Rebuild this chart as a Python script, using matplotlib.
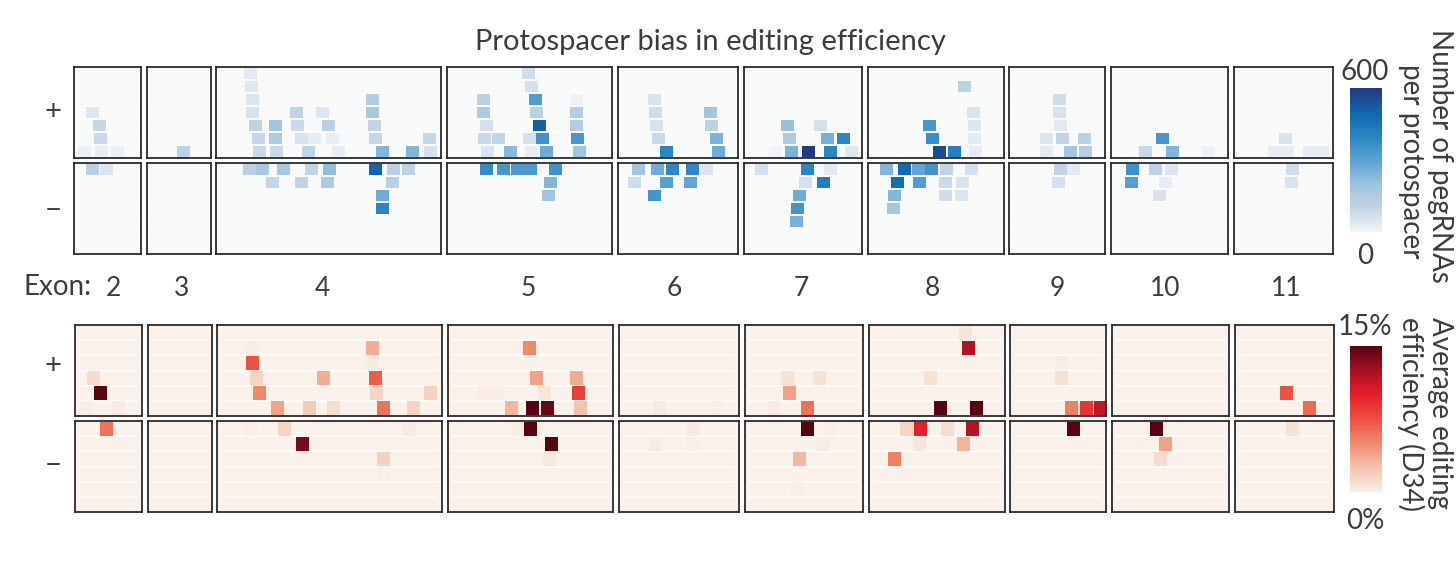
import numpy as np
import matplotlib
matplotlib.use("Agg")
import matplotlib.pyplot as plt
from matplotlib.colors import LinearSegmentedColormap, Normalize

FIG_W = 1456
FIG_H = 561
FONT = "Lato"
TEXT_COLOR = "#3c3c3c"

exons = ["2", "3", "4", "5", "6", "7", "8", "9", "10", "11"]
# exon extents on the shared position axis
exon_start = [74, 147, 216, 447, 618, 744, 868, 1009, 1111, 1234]
exon_end = [141, 211, 441, 612, 738, 862, 1004, 1105, 1228, 1333]
exon_label_pos = [113, 182, 322, 528, 674, 801, 932, 1057, 1165, 1286]

# pegRNA counts, plus strand
count_plus_row = [3, 4, 5, 6, 6, 6,
                  6,
                  0, 1, 2, 2, 3, 3, 3, 3, 4, 4, 4, 4, 4, 5, 5, 5, 5, 5, 5, 5, 6, 6, 6, 6, 6, 6, 6,
                  0, 1, 2, 2, 2, 3, 3, 3, 4, 4, 4, 5, 5, 5, 5, 5, 6, 6, 6, 6, 6,
                  2, 3, 4, 5, 6, 3, 4, 5, 6,
                  4, 4, 5, 5, 5, 6, 6, 6, 6, 6,
                  1, 3, 4, 4, 5, 5, 6, 6, 6,
                  2, 3, 4, 5, 5, 5, 6, 6, 6,
                  5, 6, 6, 6,
                  5, 6, 6, 6, 6]
count_plus_pos = [92, 99, 100, 84, 101, 117,
                  183,
                  250, 251, 252, 372, 252, 296, 322, 372, 255, 275, 297, 328, 374, 258, 275, 301, 314, 332, 375, 429, 259, 276, 308, 338, 382, 412, 430,
                  528, 531, 483, 535, 576, 483, 536, 576, 486, 539, 576, 484, 498, 529, 542, 577, 487, 510, 531, 546, 579,
                  654, 655, 656, 658, 666, 710, 711, 716, 718,
                  787, 820, 789, 827, 843, 775, 791, 808, 830, 851,
                  964, 973, 929, 974, 932, 974, 939, 954, 975,
                  1059, 1059, 1060, 1046, 1062, 1084, 1046, 1070, 1085,
                  1163, 1146, 1173, 1209,
                  1285, 1274, 1287, 1309, 1322]
count_plus_val = [45, 95, 85, 15, 22, 15,
                  120,
                  35, 40, 50, 140, 55, 110, 45, 170, 110, 190, 85, 130, 105, 95, 160, 55, 30, 22, 95, 90, 85, 85, 110, 25, 240, 240, 65,
                  75, 65, 115, 320, 10, 160, 125, 140, 65, 520, 140, 85, 105, 65, 360, 340, 50, 230, 30, 270, 190,
                  60, 75, 55, 85, 400, 190, 115, 250, 270,
                  210, 65, 150, 260, 400, 6, 250, 600, 400, 40,
                  120, 55, 340, 45, 370, 35, 560, 420, 28,
                  75, 55, 35, 45, 105, 120, 35, 180, 140,
                  340, 85, 240, 14,
                  55, 25, 25, 30, 30]

# pegRNA counts, minus strand
count_minus_row = [0, 0,
                   0, 0, 0, 0, 0, 0, 0, 0, 1, 1, 1, 1, 2, 3,
                   0, 0, 0, 0, 0, 0, 1, 2,
                   0, 0, 0, 0, 0, 1, 1, 1, 2,
                   0, 0, 0, 1, 1, 2, 3, 4,
                   0, 0, 0, 0, 0, 0, 1, 1, 1, 1, 2, 2, 2, 3,
                   0, 0, 1,
                   0, 0, 0, 1, 1, 2,
                   0, 1]
count_minus_pos = [92, 106,
                   249, 262, 283, 311, 329, 375, 393, 408, 272, 301, 327, 392, 382, 382,
                   486, 503, 517, 523, 530, 555, 550, 548,
                   638, 657, 672, 692, 706, 634, 666, 690, 654,
                   761, 807, 830, 805, 823, 799, 797, 796,
                   886, 904, 918, 931, 946, 971, 897, 919, 945, 962, 894, 945, 961, 893,
                   1060, 1073, 1058,
                   1133, 1156, 1172, 1132, 1166, 1160,
                   1292, 1291]
count_minus_val = [130, 45,
                   130, 170, 170, 105, 220, 500, 130, 120, 95, 110, 160, 130, 270, 400,
                   380, 340, 330, 330, 330, 360, 240, 190,
                   180, 270, 390, 390, 45, 75, 310, 290, 350,
                   65, 400, 35, 65, 430, 270, 350, 260,
                   240, 490, 290, 350, 105, 65, 480, 320, 85, 55, 240, 75, 45, 180,
                   105, 35, 65,
                   360, 115, 45, 310, 25, 55,
                   75, 55]

# editing efficiency (%), plus strand
eff_plus_row = [3, 4, 5, 5,
                1, 1, 2, 2, 3, 3, 3, 4, 4, 4, 5, 5, 5, 5, 5,
                1, 3, 3, 4, 4, 4, 4, 5, 5, 5, 5,
                5, 5,
                3, 3, 4, 5, 5,
                0, 1, 3, 5, 5,
                2, 3, 5, 5, 5,
                4, 5]
eff_plus_pos = [93, 100, 85, 118,
                372, 252, 252, 372, 256, 323, 375, 259, 376, 430, 277, 309, 333, 383, 413,
                529, 536, 576, 484, 498, 544, 578, 511, 532, 547, 580,
                659, 718,
                788, 820, 790, 775, 808,
                965, 968, 930, 940, 976,
                1061, 1061, 1071, 1086, 1100,
                1286, 1309]
eff_plus_val = [1.2, 15, 0.2, 0.3,
                3.5, 0.25, 7.5, 0.35, 1.6, 3.5, 7, 5, 1.6, 1.8, 4, 2, 1.1, 6, 1.6,
                5, 4, 3.5, 0.2, 0.2, 0.6, 8.5, 3.2, 15, 14.5, 2.6,
                0.4, 0.15,
                0.9, 0.9, 4, 0.3, 6,
                0.7, 12, 0.9, 15, 15,
                0.25, 0.9, 5.5, 9, 11.5,
                7.5, 6.5]

# editing efficiency (%), minus strand
eff_minus_row = [0,
                 0, 0, 0, 1, 2, 3,
                 0, 0, 1, 2,
                 0, 1, 1,
                 0, 0, 1, 2, 4,
                 0, 0, 0, 0, 1, 1, 2,
                 0,
                 0, 1, 2,
                 0]
eff_minus_pos = [106,
                 250, 284, 409, 302, 383, 383,
                 518, 530, 551, 549,
                 693, 655, 692,
                 808, 831, 824, 800, 798,
                 906, 920, 947, 972, 919, 963, 894,
                 1073,
                 1157, 1166, 1161,
                 1292]
eff_minus_val = [6,
                 0.15, 1.6, 0.35, 14, 1.8, 0.08,
                 0.25, 15, 15, 0.5,
                 0.35, 0.35, 0.15,
                 15, 0.08, 0.25, 3, 0.08,
                 1.6, 10, 1.1, 12, 0.7, 3.2, 5.5,
                 15,
                 15, 4, 1.2,
                 0.9]

blue_cmap = LinearSegmentedColormap.from_list(
    "counts", ["#f2f5f8", "#c3d4e6", "#9cc3de", "#5aa3d3", "#2b85c2", "#1166ad", "#243a80"])
red_cmap = LinearSegmentedColormap.from_list(
    "eff", ["#faf0e9", "#f3c4ae", "#ee8a6c", "#ec5340", "#e61f2c", "#a81025", "#560510"])
count_norm = Normalize(0, 600)
eff_norm = Normalize(0, 15)


def px_axes(fig, left, top, right, bottom):
    return fig.add_axes([left / FIG_W, 1 - bottom / FIG_H, (right - left) / FIG_W, (bottom - top) / FIG_H])


def draw_strand(fig, top, bottom, shift, n_rows, rows, pos, vals, cmap, norm, bg, line, inset, bar_h):
    rows = np.array(rows)
    pos = np.array(pos)
    vals = np.array(vals)
    for start, end in zip(exon_start, exon_end):
        ax = px_axes(fig, start + shift, top, end + shift, bottom)
        ax.set_facecolor(bg)
        ax.set_xlim(start + shift, end + shift)
        ax.set_ylim(n_rows - 0.5, -0.5)
        ax.hlines(np.arange(n_rows - 1) + 0.5, start + shift + inset, end + shift - inset,
                  color=line, lw=1.1, zorder=1)
        keep = (pos >= start) & (pos <= end + 1)
        ax.bar(pos[keep], bar_h, width=13, bottom=rows[keep] - bar_h / 2,
               color=cmap(norm(vals[keep])), lw=0, zorder=2)
        ax.set_xticks([])
        ax.set_yticks([])
        for s in ax.spines.values():
            s.set_linewidth(1.3)
            s.set_color("#2a2a2a")


def colorbar(fig, top, bottom, cmap):
    ax = px_axes(fig, 1350, top, 1382, bottom)
    ax.imshow(np.linspace(1, 0, 256).reshape(-1, 1), cmap=cmap, aspect="auto")
    ax.axis("off")


def px_text(fig, x, y, s, **kw):
    kw.setdefault("ha", "center")
    kw.setdefault("va", "center")
    kw.setdefault("color", TEXT_COLOR)
    kw.setdefault("family", FONT)
    fig.text(x / FIG_W, 1 - y / FIG_H, s, **kw)


fig = plt.figure(figsize=(FIG_W / 100, FIG_H / 100), dpi=100)

draw_strand(fig, 67, 158, 0, 7, count_plus_row, count_plus_pos, count_plus_val,
            blue_cmap, count_norm, "#f8fafa", "#fbfcfc", 0, 0.88)
draw_strand(fig, 163, 254, 0, 7, count_minus_row, count_minus_pos, count_minus_val,
            blue_cmap, count_norm, "#f8fafa", "#fbfcfc", 0, 0.88)
draw_strand(fig, 325, 416, 1, 6, eff_plus_row, eff_plus_pos, eff_plus_val,
            red_cmap, eff_norm, "#faf1ea", "#ffffff", 4, 0.92)
draw_strand(fig, 421, 512, 1, 6, eff_minus_row, eff_minus_pos, eff_minus_val,
            red_cmap, eff_norm, "#faf1ea", "#ffffff", 4, 0.92)

colorbar(fig, 88, 232, blue_cmap)
colorbar(fig, 346, 492, red_cmap)

px_text(fig, 710, 42, "Protospacer bias in editing efficiency", fontsize=21)
px_text(fig, 58, 287, "Exon:", fontsize=20)
for label, x in zip(exons, exon_label_pos):
    px_text(fig, x, 288, label, fontsize=19)

for y, s in [(112, "+"), (211, "\u2212"), (366, "+"), (466, "\u2212")]:
    px_text(fig, 53, y, s, fontsize=21)

px_text(fig, 1365, 72, "600", fontsize=20)
px_text(fig, 1365, 256, "0", fontsize=20)
px_text(fig, 1365, 327, "15%", fontsize=20)
px_text(fig, 1365, 521, "0%", fontsize=20)

px_text(fig, 1440, 156, "Number of pegRNAs", fontsize=20, rotation=270)
px_text(fig, 1411, 161, "per protospacer", fontsize=20, rotation=270)
px_text(fig, 1440, 413, "Average editing", fontsize=20, rotation=270)
px_text(fig, 1411, 414, "efficiency (D34)", fontsize=20, rotation=270)

fig.savefig("out.png", dpi=100)
